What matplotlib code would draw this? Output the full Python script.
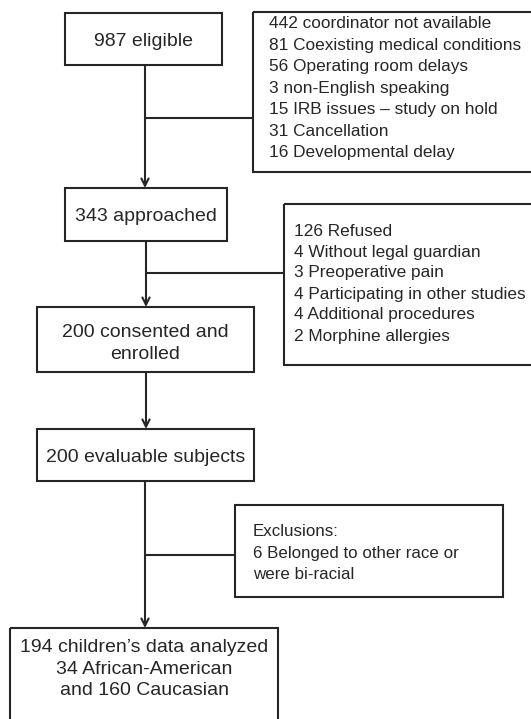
import matplotlib.pyplot as plt
from matplotlib.patches import Rectangle

plt.rcParams['font.family'] = ['Liberation Sans', 'DejaVu Sans']

# texts of the flowchart
main_steps = ['987 eligible', '343 approached', '200 consented and\nenrolled',
              '200 evaluable subjects',
              '194 children\u2019s data analyzed\n34 African-American\nand 160 Caucasian']
excl_1 = ['442 coordinator not available', '81 Coexisting medical conditions',
          '56 Operating room delays', '3 non-English speaking',
          '15 IRB issues \u2013 study on hold', '31 Cancellation', '16 Developmental delay']
excl_2 = ['126 Refused', '4 Without legal guardian', '3 Preoperative pain',
          '4 Participating in other studies', '4 Additional procedures',
          '2 Morphine allergies']
excl_3 = ['Exclusions:', '6 Belonged to other race or', 'were bi-racial']

col = '#262626'
lw = 1.5

fig = plt.figure(figsize=(5.31, 7.19), dpi=100)
ax = fig.add_axes([0, 0, 1, 1])
ax.set_xlim(0, 531)
ax.set_ylim(719, 0)
ax.axis('off')


def box(x0, y0, x1, y1):
    ax.add_patch(Rectangle((x0, y0), x1 - x0, y1 - y0, fill=False,
                           edgecolor=col, linewidth=lw, zorder=2))


def arrow(x, y0, y1):
    ax.annotate('', xy=(x, y1), xytext=(x, y0),
                arrowprops=dict(arrowstyle='->', color=col, lw=lw,
                                mutation_scale=13, shrinkA=0, shrinkB=0))


def hline(x0, x1, y):
    ax.plot([x0, x1], [y, y], color=col, lw=lw, solid_capstyle='butt')


# main boxes (x0, y0, x1, y1)
main_boxes = [(65, 13, 222, 65), (65, 188, 227, 241), (37, 307, 254, 372),
              (37, 429, 254, 481), (10, 628, 278, 740)]
for (x0, y0, x1, y1) in main_boxes:
    box(x0, y0, x1, y1)
for (x0, y0, x1, y1), t in zip(main_boxes[:4], main_steps[:4]):
    dy = 4 if '\n' in t else 2
    ax.text((x0 + x1) / 2, (y0 + y1) / 2 + dy, t, ha='center', va='center',
            fontsize=14, color=col, linespacing=1.36)
ax.text(144, 669, main_steps[4], ha='center', va='center', fontsize=14,
        color=col, linespacing=1.36)

# arrows
arrow(145, 65, 188)
arrow(146, 241, 307)
arrow(146, 372, 429)
arrow(145, 481, 628)

# side boxes
box(253, 12, 545, 172)
hline(145, 253, 118)
for i, t in enumerate(excl_1):
    ax.text(269, 24 + i * 21.4, t, ha='left', va='center', fontsize=12.4, color=col)

box(284, 204, 545, 365)
hline(146, 284, 273)
for i, t in enumerate(excl_2):
    ax.text(294, 231 + i * 21.0, t, ha='left', va='center', fontsize=12.4, color=col)

box(235, 505, 503, 597)
hline(145, 235, 555)
for i, t in enumerate(excl_3):
    ax.text(253, 532 + i * 21.2, t, ha='left', va='center', fontsize=12.2, color=col)

fig.savefig('out.png', dpi=100, facecolor='white')
